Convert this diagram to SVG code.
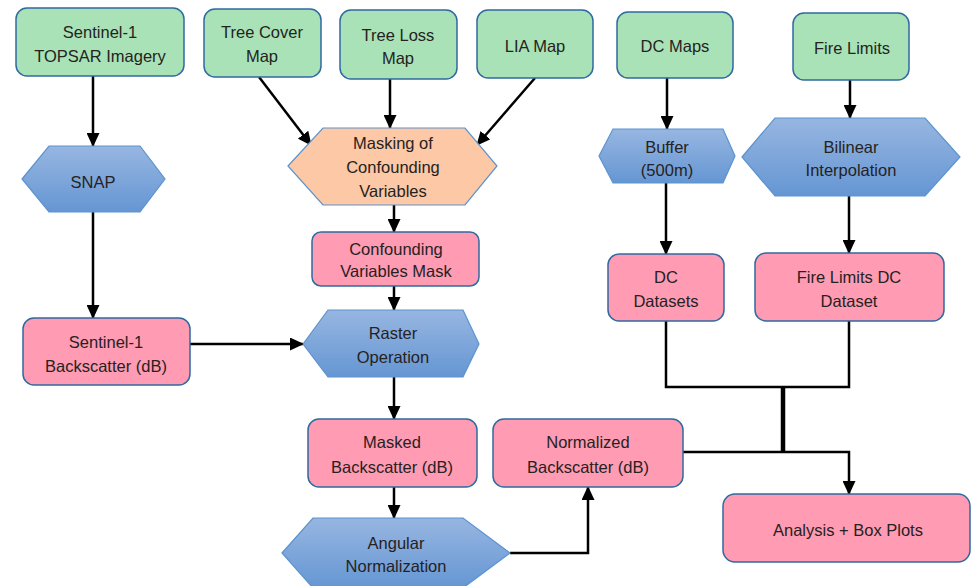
<svg xmlns="http://www.w3.org/2000/svg" width="972" height="586" viewBox="0 0 972 586">
<defs>
<linearGradient id="hexg" x1="0" y1="0" x2="0" y2="1">
<stop offset="0" stop-color="#97b6e1"/>
<stop offset="1" stop-color="#6596d3"/>
</linearGradient>
<marker id="arr" markerUnits="userSpaceOnUse" markerWidth="14" markerHeight="13" viewBox="0 0 14 13" refX="13" refY="6.5" orient="auto">
<path d="M0,0 L14,6.5 L0,13 z" fill="#000"/>
</marker>
<style>
text{font-family:"Liberation Sans",Arial,sans-serif;font-size:16.5px;fill:#262222;text-anchor:middle;dominant-baseline:central}
.g{fill:#a8e2b6;stroke:#2f6aa0;stroke-width:1.5}
.p{fill:#ff9bb2;stroke:#2f6aa0;stroke-width:1.5}
.h{fill:url(#hexg);stroke:#5b93d0;stroke-width:1.2}
.o{fill:#fcc8a5;stroke:#5b93d0;stroke-width:1.2}
.c{fill:none;stroke:#000;stroke-width:2.5}
.ca{fill:none;stroke:#000;stroke-width:2.5;marker-end:url(#arr)}
</style>
</defs>
<rect width="972" height="586" fill="#fff"/>
<g id="connectors">
<line class="ca" x1="93" y1="76" x2="93" y2="146"/>
<line class="ca" x1="93" y1="212" x2="93" y2="318"/>
<line class="ca" x1="259" y1="77" x2="311" y2="145"/>
<line class="ca" x1="390" y1="79" x2="390" y2="128"/>
<line class="ca" x1="535" y1="78" x2="477" y2="145"/>
<line class="ca" x1="394" y1="205" x2="394" y2="232"/>
<line class="ca" x1="394" y1="286" x2="394" y2="310"/>
<line class="ca" x1="190" y1="344" x2="303" y2="344"/>
<line class="ca" x1="394" y1="377" x2="394" y2="419"/>
<line class="ca" x1="394" y1="487" x2="394" y2="518"/>
<polyline class="ca" points="510,553 588,553 588,487"/>
<line class="ca" x1="667" y1="78" x2="667" y2="129"/>
<line class="ca" x1="850" y1="80" x2="850" y2="118"/>
<line class="ca" x1="666" y1="183" x2="666" y2="254"/>
<line class="ca" x1="849" y1="196" x2="849" y2="253"/>
<polyline class="c" points="666,321 666,387 849,387 849,321"/>
<line class="c" x1="783" y1="387" x2="783" y2="453" style="stroke-width:4.5"/>
<polyline class="ca" points="683,452 849,452 849,494"/>
</g>
<g id="n-s1topsar"><rect class="g" x="16" y="8" width="168" height="68" rx="11"/><text x="100" y="32">Sentinel-1</text><text x="100" y="56">TOPSAR Imagery</text></g>
<g id="n-treecover"><rect class="g" x="204" y="9" width="117" height="68" rx="11"/><text x="262" y="32">Tree Cover</text><text x="262" y="56">Map</text></g>
<g id="n-treeloss"><rect class="g" x="340" y="10" width="117" height="69" rx="11"/><text x="398" y="35">Tree Loss</text><text x="398" y="58">Map</text></g>
<g id="n-lia"><rect class="g" x="477" y="10" width="116" height="68" rx="11"/><text x="535" y="46">LIA Map</text></g>
<g id="n-dcmaps"><rect class="g" x="617" y="12" width="116" height="66" rx="11"/><text x="675" y="46">DC Maps</text></g>
<g id="n-firelimits"><rect class="g" x="793" y="13" width="116" height="67" rx="11"/><text x="852" y="48">Fire Limits</text></g>
<g id="n-snap"><polygon class="h" points="22,179 49,146 140,146 165,179 140,212 49,212"/><text x="93" y="182">SNAP</text></g>
<g id="n-masking"><polygon class="o" points="288,166 323,128 465,128 497,166 465,205 323,205"/><text x="393" y="143">Masking of</text><text x="393" y="167">Confounding</text><text x="393" y="191">Variables</text></g>
<g id="n-buffer"><polygon class="h" points="599,156 613,129 723,129 735,156 723,183 613,183"/><text x="667" y="147">Buffer</text><text x="667" y="170">(500m)</text></g>
<g id="n-bilinear"><polygon class="h" points="742,157 775,118 925,118 960,157 925,196 775,196"/><text x="851" y="147">Bilinear</text><text x="851" y="170">Interpolation</text></g>
<g id="n-confmask"><rect class="p" x="312" y="232" width="167" height="54" rx="9"/><text x="396" y="249">Confounding</text><text x="396" y="271">Variables Mask</text></g>
<g id="n-s1bs"><rect class="p" x="23" y="318" width="167" height="67" rx="11"/><text x="106" y="342">Sentinel-1</text><text x="106" y="366">Backscatter (dB)</text></g>
<g id="n-raster"><polygon class="h" points="303,344 328,310 463,310 479,344 463,377 328,377"/><text x="393" y="333">Raster</text><text x="393" y="357">Operation</text></g>
<g id="n-dcdatasets"><rect class="p" x="608" y="254" width="116" height="67" rx="11"/><text x="666" y="277">DC</text><text x="666" y="301">Datasets</text></g>
<g id="n-firedc"><rect class="p" x="755" y="253" width="189" height="68" rx="11"/><text x="849" y="277">Fire Limits DC</text><text x="849" y="301">Dataset</text></g>
<g id="n-masked"><rect class="p" x="308" y="419" width="169" height="68" rx="11"/><text x="392" y="442">Masked</text><text x="392" y="467">Backscatter (dB)</text></g>
<g id="n-normalized"><rect class="p" x="493" y="419" width="190" height="68" rx="11"/><text x="588" y="442">Normalized</text><text x="588" y="467">Backscatter (dB)</text></g>
<g id="n-angular"><polygon class="h" points="282,553 313,518 463,518 510,553 463,588 313,588"/><text x="396" y="543">Angular</text><text x="396" y="566">Normalization</text></g>
<g id="n-analysis"><rect class="p" x="723" y="494" width="247" height="68" rx="12"/><text x="848" y="530">Analysis + Box Plots</text></g>
</svg>
